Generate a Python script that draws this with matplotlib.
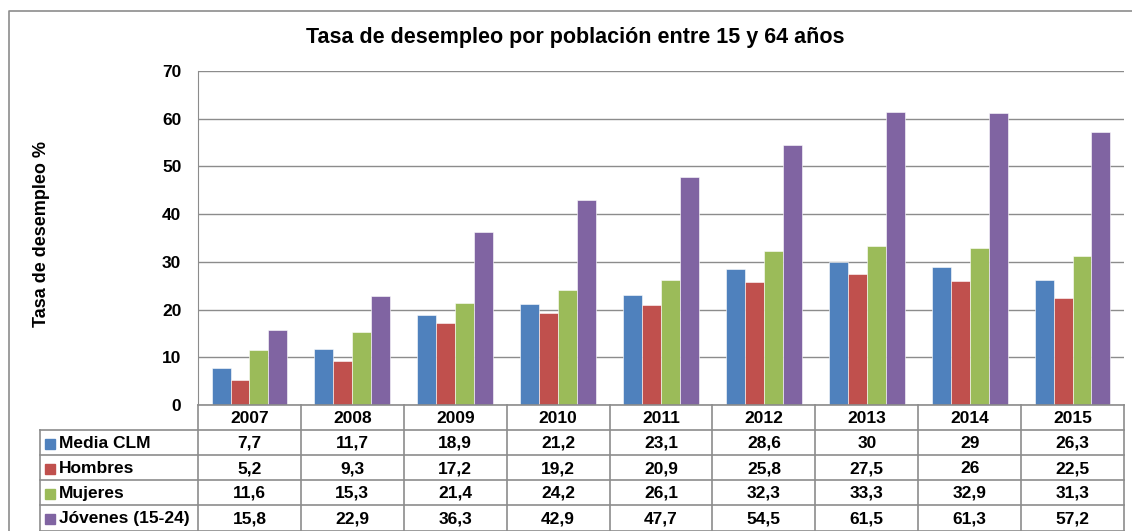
import matplotlib
matplotlib.use("Agg")
import matplotlib.pyplot as plt
from matplotlib.patches import Rectangle

plt.rcParams['font.family'] = ['Liberation Sans', 'DejaVu Sans']

# Datos
anios = ["2007", "2008", "2009", "2010", "2011", "2012", "2013", "2014", "2015"]
series = ["Media CLM", "Hombres", "Mujeres", "Jóvenes (15-24)"]
media_clm = [7.7, 11.7, 18.9, 21.2, 23.1, 28.6, 30, 29, 26.3]
hombres = [5.2, 9.3, 17.2, 19.2, 20.9, 25.8, 27.5, 26, 22.5]
mujeres = [11.6, 15.3, 21.4, 24.2, 26.1, 32.3, 33.3, 32.9, 31.3]
jovenes = [15.8, 22.9, 36.3, 42.9, 47.7, 54.5, 61.5, 61.3, 57.2]
colores = ["#4F81BD", "#C0504D", "#9BBB59", "#8064A2"]
valores = [media_clm, hombres, mujeres, jovenes]

W, H = 1132, 531
fig = plt.figure(figsize=(W / 100, H / 100), dpi=100)

# posiciones en pixeles del area de trazado
x0, x1 = 198, 1124
y_top, y_bot = 71, 405
ax = fig.add_axes([x0 / W, 1 - y_bot / H, (x1 - x0) / W, (y_bot - y_top) / H])

ancho = 0.184
n = len(anios)
for k, (vals, col) in enumerate(zip(valores, colores)):
    pos = [i + (k - 1.5) * ancho for i in range(n)]
    ax.bar(pos, vals, width=ancho, color=col, edgecolor="white", linewidth=0.4, zorder=3)

ax.set_xlim(-0.5, n - 0.5)
ax.set_ylim(0, 70)
ax.set_yticks(range(0, 71, 10))
ax.set_xticks([])
ax.yaxis.grid(True, color="#8c8c8c", linewidth=1.0, zorder=0)
for s in ["top", "right", "bottom"]:
    ax.spines[s].set_visible(False)
ax.spines["left"].set_color("#8c8c8c")
ax.tick_params(axis="y", length=0, pad=12, labelsize=12.5)
for t in ax.get_yticklabels():
    t.set_fontweight("bold")

# capa superior en pixeles para tabla, borde y textos
ov = fig.add_axes([0, 0, 1, 1], zorder=5)
ov.set_xlim(0, W)
ov.set_ylim(H, 0)
ov.axis("off")
ov.patch.set_alpha(0)

gris = "#8c8c8c"
# borde exterior del grafico
ov.plot([9, 9, W + 5], [H + 5, 11, 11], color=gris, lw=1.2)

ov.text(575, 38, "Tasa de desempleo por población entre 15 y 64 años",
        ha="center", va="center", fontsize=15.5, fontweight="bold")
ov.text(42, 234, "Tasa de desempleo %", rotation=90, ha="center", va="center",
        fontsize=13, fontweight="bold")

# tabla de datos
filas = [405, 430, 455, 480, 505, 531]
ancho_col = (x1 - x0) / n
lab_x0 = 40
ov.plot([x0, x1], [filas[0], filas[0]], color=gris, lw=1.2)
for yy in filas[1:]:
    ov.plot([lab_x0, x1], [yy, yy], color=gris, lw=1.2)
ov.plot([lab_x0, lab_x0], [filas[1], H + 5], color=gris, lw=1.2)
for i in range(n + 1):
    xx = x0 + i * ancho_col
    ov.plot([xx, xx], [filas[0], H + 5], color=gris, lw=1.2)

for i, a in enumerate(anios):
    ov.text(x0 + (i + 0.5) * ancho_col, (filas[0] + filas[1]) / 2 + 1, a,
            ha="center", va="center", fontsize=12.5, fontweight="bold")

for r, (nombre, vals, col) in enumerate(zip(series, valores, colores)):
    yc = (filas[r + 1] + filas[r + 2]) / 2 + 1
    ov.add_patch(Rectangle((45, yc - 5), 10, 10, color=col))
    ov.text(59, yc, nombre, ha="left", va="center", fontsize=12.5, fontweight="bold")
    for i, v in enumerate(vals):
        ov.text(x0 + (i + 0.5) * ancho_col, yc, f"{v:g}".replace(".", ","),
                ha="center", va="center", fontsize=12.5, fontweight="bold")

fig.savefig("out.png", dpi=100)
